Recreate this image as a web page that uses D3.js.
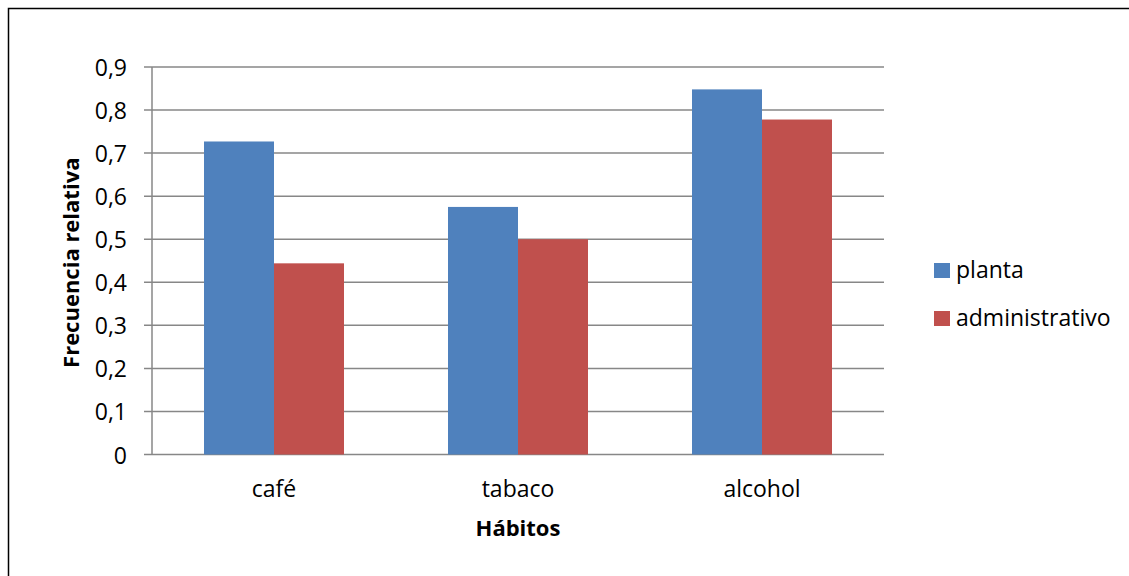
<!DOCTYPE html>
<html>
<head>
<meta charset="utf-8">
<script src="https://cdn.jsdelivr.net/npm/d3@7"></script>
<style>
  body { margin: 0; background: #fff; }
  text { font-family: "Open Sans", sans-serif; fill: #000; }
</style>
</head>
<body>
<script>
        var w = 1129;
        var h = 576;

        var categories = ["café", "tabaco", "alcohol"];
        var series = ["planta", "administrativo"];
        var planta = [0.727, 0.575, 0.848];
        var administrativo = [0.444, 0.5, 0.778];
        var yTicks = [0, 0.1, 0.2, 0.3, 0.4, 0.5, 0.6, 0.7, 0.8, 0.9];
        var colors = ["#4F81BD", "#C0504D"];

        var plot = {left: 152, right: 884, top: 67, bottom: 454.5};

        var x0 = d3.scaleBand()
                    .domain(categories)
                    .range([plot.left, plot.right])
                    .padding(0);

        var x1 = d3.scaleBand()
                    .domain(series)
                    .range([0, x0.bandwidth()])
                    .paddingInner(0)
                    .paddingOuter(0.743);

        var y = d3.scaleLinear()
                    .domain([0, 0.9])
                    .range([plot.bottom, plot.top]);

        var color = d3.scaleOrdinal().domain(series).range(colors);

        var svg = d3.select("body").append("svg").attr("width", w).attr("height", h);

        // outer border
        svg.append("rect")
            .attr("x", 8.5).attr("y", 8.5)
            .attr("width", w).attr("height", h)
            .attr("fill", "none")
            .attr("stroke", "#000")
            .attr("stroke-width", 1.5);

        // gridlines
        svg.append("g")
            .selectAll("line")
            .data(yTicks)
            .enter()
            .append("line")
            .attr("x1", plot.left - 8)
            .attr("x2", plot.right)
            .attr("y1", d => y(d))
            .attr("y2", d => y(d))
            .attr("stroke", "#878787")
            .attr("stroke-width", 1.5);

        // y axis line
        svg.append("line")
            .attr("x1", plot.left).attr("x2", plot.left)
            .attr("y1", plot.top).attr("y2", plot.bottom)
            .attr("stroke", "#878787")
            .attr("stroke-width", 1.5);

        // tick labels
        svg.append("g")
            .selectAll("text")
            .data(yTicks)
            .enter()
            .append("text")
            .attr("x", 127)
            .attr("y", d => y(d) + 9)
            .attr("text-anchor", "end")
            .attr("font-size", "23px")
            .text(d => d3.format(".1~f")(d).replace(".", ","));

        // bars
        var rows = categories.map((c, i) => ({cat: c, values: [planta[i], administrativo[i]]}));

        var groups = svg.append("g")
            .selectAll("g")
            .data(rows)
            .enter()
            .append("g")
            .attr("transform", d => "translate(" + x0(d.cat) + ",0)");

        groups.selectAll("rect")
            .data(d => series.map((s, j) => ({s: s, v: d.values[j]})))
            .enter()
            .append("rect")
            .attr("x", d => x1(d.s))
            .attr("y", d => y(d.v))
            .attr("width", x1.bandwidth())
            .attr("height", d => plot.bottom - y(d.v))
            .attr("fill", d => color(d.s));

        // category labels
        svg.append("g")
            .selectAll("text")
            .data(categories)
            .enter()
            .append("text")
            .attr("x", d => x0(d) + x0.bandwidth() / 2)
            .attr("y", 497)
            .attr("text-anchor", "middle")
            .attr("font-size", "23px")
            .text(d => d);

        // axis titles
        svg.append("text")
            .attr("x", (plot.left + plot.right) / 2)
            .attr("y", 536)
            .attr("text-anchor", "middle")
            .attr("font-size", "22px")
            .attr("font-weight", "bold")
            .text("Hábitos");

        svg.append("text")
            .attr("transform", "translate(79," + ((plot.top + plot.bottom) / 2 + 2) + ") rotate(-90)")
            .attr("text-anchor", "middle")
            .attr("font-size", "22px")
            .attr("font-weight", "bold")
            .text("Frecuencia relativa");

        // legend
        var legend = svg.append("g")
            .selectAll("g")
            .data(series)
            .enter()
            .append("g")
            .attr("transform", (d, i) => "translate(934," + (263 + i * 48) + ")");

        legend.append("rect")
            .attr("width", 16).attr("height", 15)
            .attr("fill", d => color(d));

        legend.append("text")
            .attr("x", 22)
            .attr("y", 15)
            .attr("font-size", "23px")
            .text(d => d);
</script>
</body>
</html>
